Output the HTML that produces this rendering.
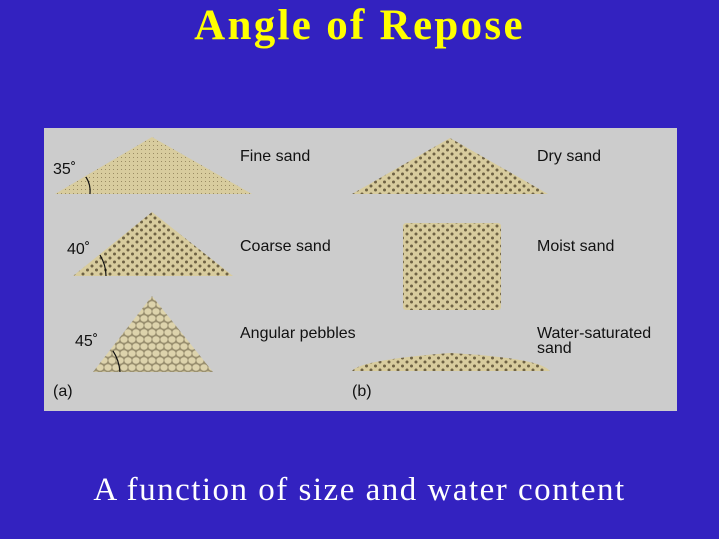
<!DOCTYPE html>
<html><head><style>
body{margin:0;width:719px;height:539px;background:#3322c0;overflow:hidden;position:relative;font-family:"Liberation Sans",sans-serif}
.t{position:absolute;left:0;width:719px;text-align:center;font-family:"Liberation Serif",serif;font-weight:bold}
.l{position:absolute;font-size:16px;color:#111;line-height:16px}
</style></head><body>
<div class="t" style="top:1px;font-size:43px;color:#ffff00;letter-spacing:2.3px">Angle of Repose</div>
<div class="t" style="top:472px;font-size:33px;color:#fff;font-weight:normal;letter-spacing:1.5px">A function of size and water content</div>
<svg style="position:absolute;left:0;top:0" width="719" height="539">
<defs>
<pattern id="f" width="4" height="4" patternUnits="userSpaceOnUse"><rect width="4" height="4" fill="#d8cc9e"/><rect x="1" y="1" width="1" height="1" fill="#9a8c64"/></pattern>
<pattern id="c" width="9" height="8" patternUnits="userSpaceOnUse"><rect width="9" height="8" fill="#d8cc9e"/><circle cx="2" cy="2" r="1.5" fill="#6e6244"/><circle cx="6.5" cy="6" r="1.5" fill="#6e6244"/></pattern>
<pattern id="p" width="16" height="14" patternUnits="userSpaceOnUse"><rect width="16" height="14" fill="#9a9070"/><ellipse cx="4" cy="3.5" rx="3.6" ry="3.2" fill="#ddd3ac"/><ellipse cx="12" cy="3.5" rx="3.6" ry="3.2" fill="#ddd3ac"/><ellipse cx="8" cy="10.5" rx="3.6" ry="3.2" fill="#ddd3ac"/><ellipse cx="0" cy="10.5" rx="3.6" ry="3.2" fill="#ddd3ac"/><ellipse cx="16" cy="10.5" rx="3.6" ry="3.2" fill="#ddd3ac"/></pattern>
</defs>
<rect x="44" y="128" width="633" height="283" fill="#cccccc"/>
<polygon points="55,194 152,137 252,194" fill="url(#f)"/>
<polygon points="73,276 152,212 233,276" fill="url(#c)"/>
<polygon points="93,372 152,296 213,372" fill="url(#p)"/>
<polygon points="352,194 450,138 548,194" fill="url(#c)"/>
<rect x="403" y="223" width="98" height="87" rx="3" fill="url(#c)"/>
<path d="M352,371 Q360,360 450,353 Q540,358 550,371 Z" fill="url(#c)"/>
<path d="M86,177 Q91,185 90,194" stroke="#111" fill="none" stroke-width="1.2"/>
<path d="M100,255 Q106,265 106,276" stroke="#111" fill="none" stroke-width="1.2"/>
<path d="M113,351 Q119,360 120,372" stroke="#111" fill="none" stroke-width="1.2"/>
</svg>
<div class="l" style="left:53px;top:162px">35˚</div>
<div class="l" style="left:67px;top:242px">40˚</div>
<div class="l" style="left:75px;top:334px">45˚</div>
<div class="l" style="left:240px;top:149px">Fine sand</div>
<div class="l" style="left:240px;top:239px">Coarse sand</div>
<div class="l" style="left:240px;top:326px">Angular pebbles</div>
<div class="l" style="left:537px;top:149px">Dry sand</div>
<div class="l" style="left:537px;top:239px">Moist sand</div>
<div class="l" style="left:537px;top:326px;line-height:15px">Water-saturated<br>sand</div>
<div class="l" style="left:53px;top:384px">(a)</div>
<div class="l" style="left:352px;top:384px">(b)</div>
</body></html>
